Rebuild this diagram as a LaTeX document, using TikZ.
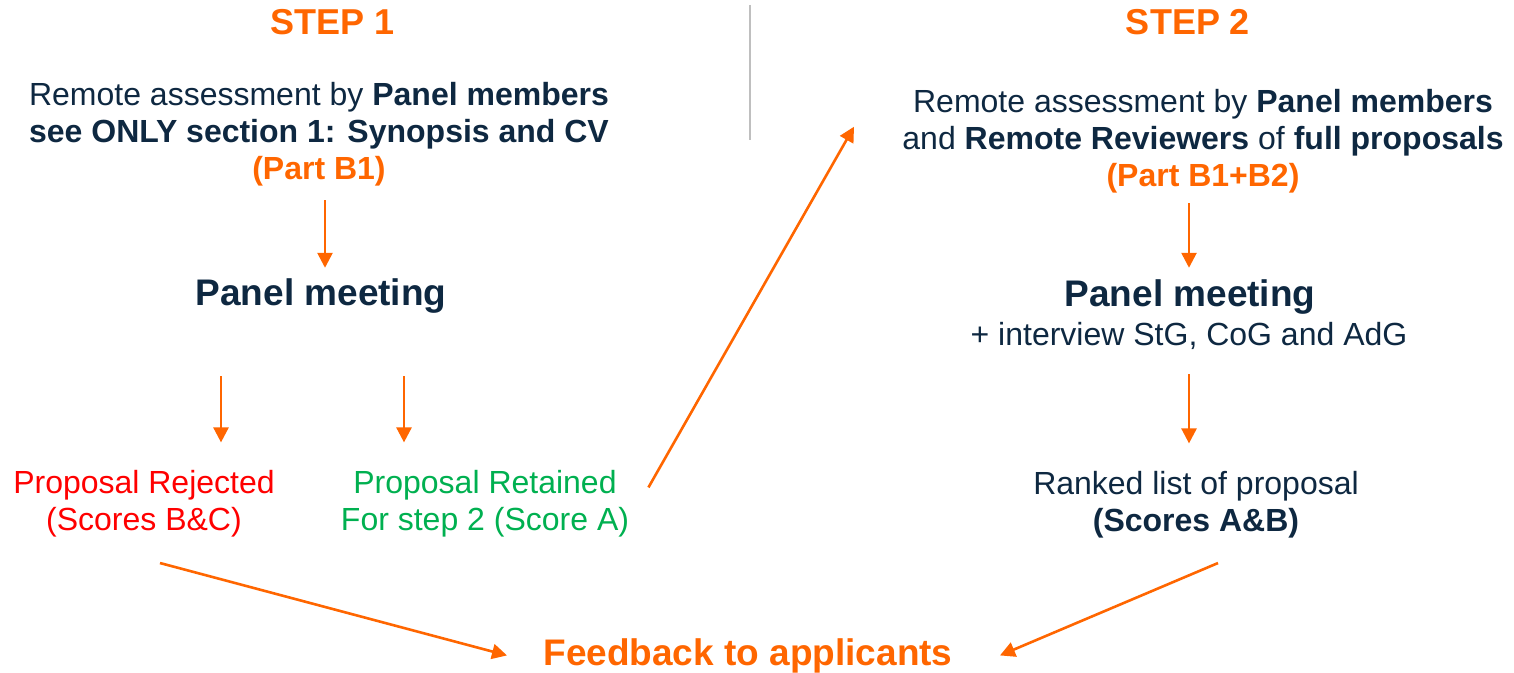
\documentclass[tikz,border=0pt]{standalone}
\usepackage{fontspec}
\setmainfont{Liberation Sans}
\usetikzlibrary{arrows.meta}

\definecolor{ercorange}{HTML}{FF6600}
\definecolor{ercnavy}{HTML}{0E2841}
\definecolor{rejred}{HTML}{FF0000}
\definecolor{retgreen}{HTML}{00B050}
\definecolor{dividergray}{HTML}{BFBFBF}

\tikzset{
  steptitle/.style={font=\fontsize{18}{21}\selectfont\bfseries, text=ercorange, inner sep=0pt, anchor=base},
  bigtext/.style={font=\fontsize{18.5}{22}\selectfont\bfseries, inner sep=0pt, anchor=base},
  bodytext/.style={font=\fontsize{16}{18.5}\selectfont, text=ercnavy, align=center, inner sep=0pt, anchor=base},
  flow/.style={draw=ercorange, line width=1.3pt, -{Triangle[width=7.5pt,length=7.5pt]}},
}

\begin{document}
\begin{tikzpicture}[x=0.5pt, y=-0.5pt]

    % --- Frame ---
    % Keep the page the size of the reference
    \useasboundingbox (0,0) rectangle (1514,673);

    % --- Divider ---
    \draw[dividergray, line width=0.8pt] (750,5) -- (750,140);

    % --- Step 1 ---
    % (multi-line nodes sit on the baseline of their last line)
    \node[steptitle] (step1) at (333,35) {STEP 1};
    \node[bodytext] (blk1) at (319,180)
        {Remote assessment by \textbf{Panel members}\\
         \textbf{see ONLY section 1: Synopsis and CV}\\
         \textcolor{ercorange}{\textbf{(Part B1)}}};
    \node[bigtext, text=ercnavy] (meet1) at (321,306) {Panel meeting};
    \node[bodytext, text=rejred] (rej) at (144,530) {Proposal Rejected\\(Scores B\&C)};
    \node[bodytext, text=retgreen] (ret) at (485,530) {Proposal Retained\\For step 2 (Score A)};

    % --- Step 2 ---
    \node[steptitle] (step2) at (1188,35) {STEP 2};
    \node[bodytext] (blk2) at (1203,187)
        {Remote assessment by \textbf{Panel members}\\
         and \textbf{Remote Reviewers} of \textbf{full proposals}\\
         \textcolor{ercorange}{\textbf{(Part B1+B2)}}};
    \node[bigtext, text=ercnavy] (meet2) at (1190,307) {Panel meeting};
    \node[bodytext] (intv) at (1189,346) {+ interview StG, CoG and AdG};
    \node[bodytext] (rank) at (1196,531) {Ranked list of proposal\\\textbf{(Scores A\&B)}};

    % --- Outcome ---
    \node[bigtext, text=ercorange] (fback) at (748,665) {Feedback to applicants};

    % --- Arrows ---
    % Step 1 flow
    \draw[flow, shorten <=6.5pt, shorten >=5.5pt]
        ([xshift=3pt]blk1.south) -- ([xshift=3pt]blk1.south |- meet1.north);
    \draw[flow, shorten <=31pt, shorten >=13.5pt]
        ([xshift=-50pt]meet1.south) -- ([xshift=-50pt]meet1.south |- rej.north);
    \draw[flow, shorten <=31pt, shorten >=13.5pt]
        ([xshift=41.5pt]meet1.south) -- ([xshift=41.5pt]meet1.south |- ret.north);
    % Retained proposals go on to step 2
    \draw[flow] ([xshift=9.5pt, yshift=-9pt]ret.north east) -- ([xshift=-24pt, yshift=7.5pt]blk2.west);

    % Step 2 flow
    \draw[flow, shorten <=4.5pt, shorten >=6pt]
        ([xshift=-7pt]blk2.south) -- ([xshift=-7pt]blk2.south |- meet2.north);
    \draw[flow, shorten <=12pt, shorten >=13.5pt] (intv.south) -- (intv.south |- rank.north);

    % Both steps end in feedback
    \draw[flow] ([xshift=8pt, yshift=-13pt]rej.south) -- ([xshift=-18pt]fback.west);
    \draw[flow] ([xshift=11pt, yshift=-12.5pt]rank.south) -- ([xshift=23.5pt]fback.east);

\end{tikzpicture}
\end{document}
